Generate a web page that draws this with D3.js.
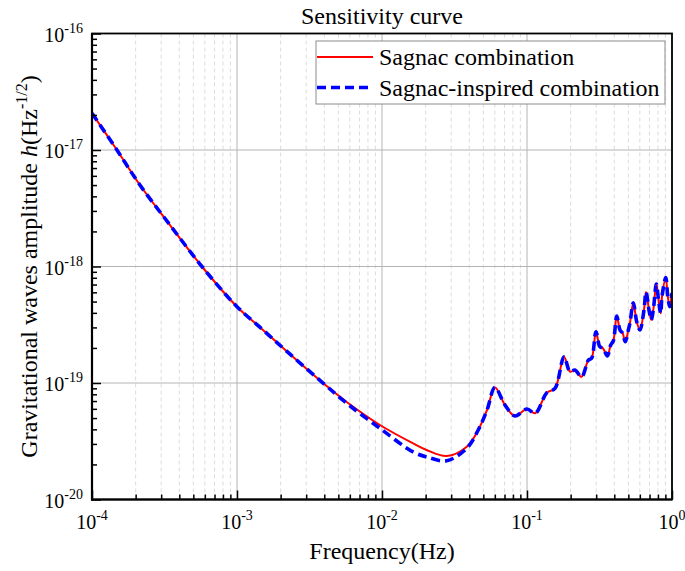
<!DOCTYPE html>
<html><head><meta charset="utf-8">
<script src="https://cdn.jsdelivr.net/npm/d3@7"></script>
<style>
body{margin:0;background:#fff}
svg{display:block;font-family:"Liberation Serif","Times New Roman",serif}
</style>
</head><body><svg id="c" width="685" height="571"></svg>
<script>
// ---- data ----
const freq = [1.00e-4,1.47e-4,2.14e-4,3.45e-4,5.86e-4,1.00e-3,1.49e-3,2.26e-3,3.94e-3,5.71e-3,
  9.68e-3,1.64e-2,2.03e-2,2.79e-2,3.84e-2,4.61e-2,5.30e-2,6.01e-2,7.05e-2,8.26e-2,
  1.00e-1,1.14e-1,1.37e-1,1.56e-1,1.80e-1,1.98e-1,2.14e-1,2.38e-1,2.65e-1,2.79e-1,
  2.99e-1,3.18e-1,3.34e-1,3.58e-1,3.78e-1,3.94e-1,4.16e-1,4.38e-1,4.57e-1,4.76e-1,
  5.00e-1,5.13e-1,5.41e-1,5.71e-1,6.01e-1,6.41e-1,6.62e-1,6.97e-1,7.19e-1,7.43e-1,
  7.80e-1,8.05e-1,8.36e-1,8.53e-1,9.06e-1,9.33e-1,9.64e-1,1.00];
const sagnac = [2.07e-17,1.02e-17,5.01e-18,2.27e-18,9.66e-19,4.52e-19,2.90e-19,1.82e-19,9.93e-20,6.87e-20,
  4.36e-20,3.03e-20,2.66e-20,2.36e-20,2.84e-20,3.95e-20,5.86e-20,9.14e-20,6.47e-20,5.21e-20,
  5.98e-20,5.50e-20,8.26e-20,8.99e-20,1.68e-19,1.25e-19,1.29e-19,1.13e-19,1.57e-19,1.63e-19,
  2.75e-19,2.05e-19,1.99e-19,1.71e-19,2.12e-19,2.30e-19,3.76e-19,2.85e-19,2.67e-19,2.26e-19,
  2.85e-19,3.27e-19,4.89e-19,3.36e-19,2.85e-19,4.24e-19,6.04e-19,4.09e-19,3.48e-19,4.24e-19,
  7.08e-19,5.33e-19,3.96e-19,5.51e-19,8.02e-19,5.69e-19,4.52e-19,5.93e-19];
const sagnacInspired = [2.07e-17,1.02e-17,5.01e-18,2.27e-18,9.66e-19,4.52e-19,2.90e-19,1.82e-19,9.93e-20,6.70e-20,
  4.08e-20,2.56e-20,2.32e-20,2.15e-20,2.75e-20,3.95e-20,5.86e-20,9.14e-20,6.47e-20,5.21e-20,
  5.98e-20,5.50e-20,8.26e-20,8.99e-20,1.68e-19,1.25e-19,1.29e-19,1.13e-19,1.57e-19,1.63e-19,
  2.75e-19,2.05e-19,1.99e-19,1.71e-19,2.12e-19,2.30e-19,3.76e-19,2.85e-19,2.67e-19,2.26e-19,
  2.85e-19,3.27e-19,4.89e-19,3.36e-19,2.85e-19,4.24e-19,6.04e-19,4.09e-19,3.48e-19,4.24e-19,
  7.08e-19,5.33e-19,3.96e-19,5.51e-19,8.02e-19,5.69e-19,4.52e-19,5.93e-19];
const seriesNames = ["Sagnac combination","Sagnac-inspired combination"];
const xMajorTicks = [1e-4,1e-3,1e-2,1e-1,1];
const xTickExps = ["-4","-3","-2","-1","0"];
const yMajorTicks = [1e-20,1e-19,1e-18,1e-17,1e-16];
const yTickExps = ["-20","-19","-18","-17","-16"];
const titleText = "Sensitivity curve";
const xLabelText = "Frequency(Hz)";

// ---- layout ----
const L = 92, R = 672, T = 33.5, B = 499.5;
const svg = d3.select("#c");
const x = d3.scaleLog().domain([1e-4, 1]).range([L, R]);
const y = d3.scaleLog().domain([1e-20, 1e-16]).range([B, T]);

function minors(majors){
  const out = [];
  for (let i = 0; i < majors.length - 1; i++)
    for (let k = 2; k <= 9; k++) out.push(majors[i] * k);
  return out;
}
const xMinor = minors(xMajorTicks);
const yMinor = minors(yMajorTicks);

// grid
const grid = svg.append("g");
grid.selectAll(".gxm").data(xMinor).join("line")
  .attr("x1", d => x(d)).attr("x2", d => x(d)).attr("y1", T).attr("y2", B)
  .attr("stroke", "#dcdcdc").attr("stroke-width", 1).attr("stroke-dasharray", "4,3");
grid.selectAll(".gx").data(xMajorTicks).join("line")
  .attr("x1", d => x(d)).attr("x2", d => x(d)).attr("y1", T).attr("y2", B)
  .attr("stroke", "#b4b4b4").attr("stroke-width", 1);
grid.selectAll(".gy").data(yMajorTicks).join("line")
  .attr("y1", d => y(d)).attr("y2", d => y(d)).attr("x1", L).attr("x2", R)
  .attr("stroke", "#b4b4b4").attr("stroke-width", 1);

// curves
const pts = v => freq.map((f, i) => ({f, v: v[i]}));
const line = d3.line().x(d => x(d.f)).y(d => y(d.v)).curve(d3.curveCatmullRom.alpha(0.5));
svg.append("clipPath").attr("id", "clp").append("rect")
  .attr("x", L).attr("y", T).attr("width", R - L).attr("height", B - T);
const curves = svg.append("g").attr("clip-path", "url(#clp)");
curves.append("path").datum(pts(sagnac)).attr("d", line)
  .attr("fill", "none").attr("stroke", "#ff0000").attr("stroke-width", 2);
curves.append("path").datum(pts(sagnacInspired)).attr("d", line)
  .attr("fill", "none").attr("stroke", "#0000ff").attr("stroke-width", 3.6)
  .attr("stroke-dasharray", "9,5");

// axes (ticks inward)
const xAxisMajor = d3.axisBottom(x).tickValues(xMajorTicks).tickSize(-9).tickFormat("");
const xAxisMinor = d3.axisBottom(x).tickValues(xMinor).tickSize(-5).tickFormat("");
const yAxisMajor = d3.axisLeft(y).tickValues(yMajorTicks).tickSize(-9).tickFormat("");
const yAxisMinor = d3.axisLeft(y).tickValues(yMinor).tickSize(-5).tickFormat("");
[xAxisMajor, xAxisMinor].forEach(a => svg.append("g").attr("transform", `translate(0,${B})`).call(a)
  .call(g => g.select(".domain").remove()).selectAll("line").attr("stroke", "#000").attr("stroke-width", 1.5));
[yAxisMajor, yAxisMinor].forEach(a => svg.append("g").attr("transform", `translate(${L},0)`).call(a)
  .call(g => g.select(".domain").remove()).selectAll("line").attr("stroke", "#000").attr("stroke-width", 1.5));

// frame
svg.append("rect").attr("x", L).attr("y", T).attr("width", R - L).attr("height", B - T)
  .attr("fill", "none").attr("stroke", "#000").attr("stroke-width", 1.8);
svg.append("line").attr("x1", L).attr("x2", L).attr("y1", T).attr("y2", B + 1).attr("stroke", "#000").attr("stroke-width", 2.2);
svg.append("line").attr("x1", L - 1).attr("x2", R).attr("y1", B).attr("y2", B).attr("stroke", "#000").attr("stroke-width", 2.2);

// tick labels
const xl = svg.append("g").attr("font-size", 20).attr("fill", "#000");
xMajorTicks.forEach((t, i) => {
  const txt = xl.append("text").attr("x", x(t)).attr("y", B + 29).attr("text-anchor", "middle");
  txt.append("tspan").text("10");
  txt.append("tspan").attr("dy", -9).attr("font-size", 14).text(xTickExps[i]);
});
const yl = svg.append("g").attr("font-size", 20).attr("fill", "#000");
yMajorTicks.forEach((t, i) => {
  const txt = yl.append("text").attr("x", 83).attr("y", y(t) + 8).attr("text-anchor", "end");
  txt.append("tspan").text("10");
  txt.append("tspan").attr("dy", -9).attr("font-size", 14).text(yTickExps[i]);
});

// title and axis labels
svg.append("text").attr("x", (L + R) / 2).attr("y", 24).attr("text-anchor", "middle")
  .attr("font-size", 24).text(titleText);
svg.append("text").attr("x", (L + R) / 2).attr("y", 559).attr("text-anchor", "middle")
  .attr("font-size", 24).text(xLabelText);
const yLab = svg.append("text").attr("transform", `translate(37,${(T + B) / 2}) rotate(-90)`)
  .attr("text-anchor", "middle").attr("font-size", 24);
yLab.append("tspan").text("Gravitational waves amplitude ");
yLab.append("tspan").attr("font-style", "italic").text("h");
yLab.append("tspan").text("(Hz");
yLab.append("tspan").attr("dy", -10).attr("font-size", 16).text("-1/2");
yLab.append("tspan").attr("dy", 10).text(")");

// legend
const lg = svg.append("g");
lg.append("rect").attr("x", 316).attr("y", 41).attr("width", 349).attr("height", 63)
  .attr("fill", "#fff").attr("stroke", "#8c8c8c").attr("stroke-width", 1);
const legendStyles = [{c: "#ff0000", w: 2, d: null}, {c: "#0000ff", w: 3.6, d: "9,5"}];
seriesNames.forEach((n, i) => {
  const yy = 57 + i * 30.5;
  lg.append("line").attr("x1", 317).attr("x2", 373).attr("y1", yy).attr("y2", yy)
    .attr("stroke", legendStyles[i].c).attr("stroke-width", legendStyles[i].w)
    .attr("stroke-dasharray", legendStyles[i].d);
  lg.append("text").attr("x", 379).attr("y", yy + 8).attr("font-size", 24).text(n);
});
</script>
</body></html>
